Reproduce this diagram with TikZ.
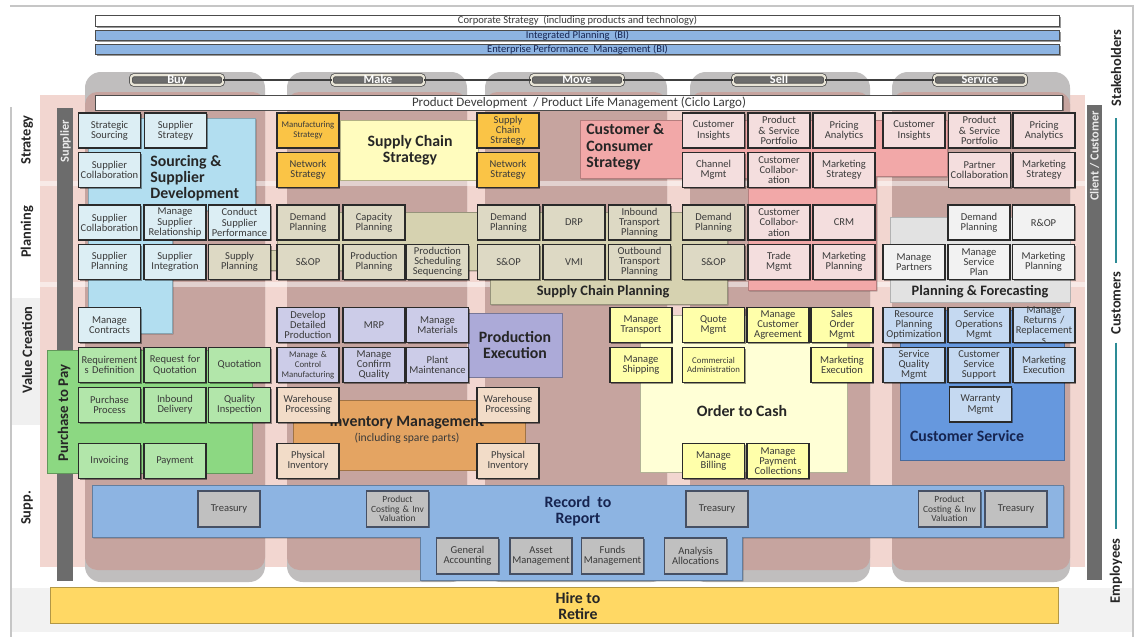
\documentclass[tikz,border=0pt]{standalone}
\usepackage{fontspec}
\setmainfont{Carlito}
\usetikzlibrary{shadows}

\definecolor{pinkbg}{RGB}{242,214,208}
\definecolor{mauve}{RGB}{198,164,159}
\definecolor{colgray}{RGB}{192,190,190}
\definecolor{bardark}{RGB}{108,108,108}
\definecolor{boxline}{RGB}{42,42,42}
\definecolor{txtdark}{RGB}{58,58,58}
\definecolor{navytxt}{RGB}{22,36,80}
\definecolor{tealline}{RGB}{45,140,150}
\definecolor{bluebar}{RGB}{141,180,226}
\definecolor{srcbig}{RGB}{178,222,240}
\definecolor{srcbox}{RGB}{220,238,244}
\definecolor{tanbox}{RGB}{221,217,196}
\definecolor{tanband}{RGB}{214,210,176}
\definecolor{orgbox}{RGB}{250,196,70}
\definecolor{scsbig}{RGB}{255,252,190}
\definecolor{pinkbox}{RGB}{244,222,222}
\definecolor{pinkbig}{RGB}{242,168,168}
\definecolor{graybox}{RGB}{242,242,242}
\definecolor{grayband}{RGB}{226,226,226}
\definecolor{lavbox}{RGB}{204,204,232}
\definecolor{lavbig}{RGB}{172,170,216}
\definecolor{grnbox}{RGB}{178,230,170}
\definecolor{grnbig}{RGB}{140,216,130}
\definecolor{peachbox}{RGB}{242,220,200}
\definecolor{invbig}{RGB}{228,164,98}
\definecolor{ylwbox}{RGB}{255,255,170}
\definecolor{otcbig}{RGB}{255,255,214}
\definecolor{svcbox}{RGB}{197,217,241}
\definecolor{svcbig}{RGB}{102,152,222}
\definecolor{finbox}{RGB}{192,192,192}
\definecolor{finline}{RGB}{70,80,100}
\definecolor{hrband}{RGB}{255,216,100}
\definecolor{pillrim}{RGB}{232,228,214}

\newcommand{\bxfont}{\fontsize{6}{5.8}\selectfont}
\newcommand{\bxsmall}{\fontsize{5}{5.6}\selectfont}
\newcommand{\lblfont}{\bfseries\fontsize{9}{9.2}\selectfont}
\newcommand{\overw}[1]{\makebox[\linewidth][c]{#1}}

\tikzset{
  dshadow/.style={drop shadow={shadow xshift=0.8pt, shadow yshift=-0.8pt, opacity=0.4, fill=black}},
  bx/.style={draw=boxline, line width=0.75pt, minimum width=1.24cm, minimum height=0.70cm,
    text width=1.24cm, inner sep=0pt, align=center, text=txtdark, font=\bxfont, dshadow},
  bxtxt/.style={text width=1.24cm, inner sep=0pt, align=center, text=txtdark, font=\bxfont},
  srcb/.style={bx, fill=srcbox},
  tanb/.style={bx, fill=tanbox},
  orgb/.style={bx, fill=orgbox},
  pnkb/.style={bx, fill=pinkbox},
  gryb/.style={bx, fill=graybox},
  lavb/.style={bx, fill=lavbox},
  grnb/.style={bx, fill=grnbox},
  pchb/.style={bx, fill=peachbox},
  ylwb/.style={bx, fill=ylwbox},
  svcb/.style={bx, fill=svcbox},
  finb/.style={bx, fill=finbox, draw=finline, line width=0.6pt, minimum height=0.72cm},
  grp/.style={line width=0.4pt, dshadow},
  biglbl/.style={font=\lblfont, text=black!85, align=center, inner sep=0pt},
  topbar/.style={draw=gray!60!black, line width=0.5pt, minimum width=19.3cm, minimum height=0.21cm,
    inner sep=0pt, font=\fontsize{6}{6}\selectfont, dshadow},
  pill/.style={fill=bardark, draw=gray!55!black, double=pillrim, double distance=1.3pt,
    rounded corners=1.5pt, minimum width=1.84cm, minimum height=0.17cm, inner sep=0pt,
    text height=4.6pt, text depth=0.8pt, text=white, font=\bfseries\fontsize{7}{7}\selectfont},
  rowlbl/.style={rotate=90, font=\bfseries\fontsize{8.2}{8.2}\selectfont, text=black!85},
  sidelbl/.style={rotate=90, font=\bfseries\fontsize{7}{7}\selectfont, text=white!92!black}
}

\begin{document}
\begin{tikzpicture}[x=0.02cm, y=-0.02cm]
\useasboundingbox (0,0) rectangle (1136,637);

% page, frame and backgrounds
\fill[white] (0,0) rectangle (1136,637);
\fill[gray!12] (11,298) rectangle (41,425);
\fill[gray!10] (11,588) rectangle (1133,632);
\draw[gray!45, line width=0.6pt] (10,6) -- (1133,6) -- (1133,637);
\draw[gray!45, line width=0.6pt] (11,107) -- (11,637);
\fill[pinkbg] (40,95) rectangle (1085,567);
\foreach \xa/\xb in {85/265, 287/467, 485/667, 690/870, 892/1070} {
  \fill[colgray, rounded corners=9pt] (\xa,72) rectangle (\xb,582);
  \fill[mauve, rounded corners=7pt] (\xa,92) rectangle (\xb,570);
}
\fill[white, opacity=0.5] (40,181) rectangle (1085,186);
\fill[white, opacity=0.5] (40,282) rectangle (1085,287);

\fill[bardark] (57,108) rectangle (73,581);
\node[sidelbl] (supLbl) at (65.5,141) {Supplier};
\fill[bardark] (1087,105) rectangle (1102,580);
\node[sidelbl] (cliLbl) at (1094.5,156) {Client / Customer};

% top bars and tabs
\node[topbar, fill=white, text=txtdark] (corp) at (577.5,21) {Corporate Strategy \ (including products and technology)};
\node[topbar, fill=bluebar, text=navytxt] (intp) at (577.5,35.5) {Integrated Planning \ (BI)};
\node[topbar, fill=bluebar, text=navytxt] (epm) at (577.5,49.5) {Enterprise Performance \ Management (BI)};

\node[pill] (buy) at (177,80) {Buy};
\node[pill] (make) at (378,80) {Make};
\node[pill] (move) at (577,80) {Move};
\node[pill] (sell) at (779,80) {Sell};
\node[pill] (service) at (980,80) {Service};
\draw[line width=1pt, black!75] (buy) -- (make) -- (move) -- (sell) -- (service);

\node[draw=gray!60!black, fill=white, line width=0.5pt, minimum width=19.36cm, minimum height=0.3cm,
  inner sep=0pt, text=txtdark, font=\fontsize{7.4}{7.4}\selectfont, dshadow] (pdev) at (579,102.5)
  {Product Development \ / Product Life Management (Ciclo Largo)};

% groups
\path[fill=srcbig, draw=srcbig!75!black, grp] (88,118) -- (255,118) -- (255,210) -- (172,210) -- (172,333) -- (88,333) -- cycle;
\path[fill=scsbig, draw=scsbig!70!black, grp] (340,120) rectangle (478,180);
\path[fill=pinkbig, draw=pinkbig!75!black, grp] (580,120) -- (947,120) -- (947,176) -- (876,176) -- (876,290) -- (748,290) -- (748,178) -- (580,178) -- cycle;
\path[fill=tanband, draw=tanband!70!black, grp] (262,250) -- (277,250) -- (277,212) -- (727,212) -- (727,304) -- (490,304) -- (490,270) -- (262,270) -- cycle;
\path[fill=grayband, draw=gray!60, grp] (890,217) rectangle (1070,302);
\path[fill=grnbig, draw=grnbig!70!black, grp] (47,350) rectangle (252,473);
\path[fill=lavbig, draw=lavbig!70!black, grp] (468,313) rectangle (562,377);
\path[fill=invbig, draw=invbig!70!black, grp] (293,400) rectangle (525,470);
\path[fill=otcbig, draw=otcbig!70!black, grp] (640,315) rectangle (847,472);
\path[fill=svcbig, draw=svcbig!70!black, grp] (900,310) rectangle (1064,460);
\path[fill=bluebar, draw=bluebar!70!black, grp] (92,485) -- (1063,485) -- (1063,537) -- (742,537) -- (742,580) -- (420,580) -- (420,537) -- (92,537) -- cycle;
\path[fill=hrband, draw=hrband!70!black, grp] (50,587) rectangle (1058,623);

\node[biglbl, anchor=west, align=left] (srcLbl) at (150,178) {Sourcing \&\\Supplier\\Development};
\node[biglbl] (scsLbl) at (410,150) {Supply Chain\\Strategy};
\node[biglbl, anchor=west, align=left] (ccsLbl) at (586,147) {Customer \&\\Consumer\\Strategy};
\node[biglbl, font=\bfseries\fontsize{8.2}{8.2}\selectfont] (scpLbl) at (603,292) {Supply Chain Planning};
\node[biglbl, font=\bfseries\fontsize{8.2}{8.2}\selectfont] (pfLbl) at (980,292) {Planning \& Forecasting};
\node[biglbl, rotate=90, font=\bfseries\fontsize{8.4}{8.4}\selectfont] (p2pLbl) at (64,413) {Purchase to Pay};
\node[biglbl] (peLbl) at (515,345) {Production\\Execution};
\node[biglbl] (invLbl) at (407,423) {Inventory Management};
\node[inner sep=0pt, text=txtdark, font=\fontsize{6.6}{6.6}\selectfont] (invSub) at (407,438) {(including spare parts)};
\node[biglbl] (otcLbl) at (742,411) {Order to Cash};
\node[biglbl, text=navytxt] (csLbl) at (967,436) {Customer Service};
\node[biglbl, text=navytxt] (r2rLbl) at (578,511) {Record \ to\\Report};
\node[biglbl] (h2rLbl) at (578,606) {Hire to\\Retire};

% buy
\node[srcb] (bS1) at (109.5,130.5) {Strategic\\Sourcing};
\node[srcb] (bS2) at (175.5,130.5) {Supplier\\Strategy};
\node[srcb] (bS3) at (109.5,170) {Supplier\\\overw{Collaboration}};
\node[srcb] (bP1) at (109.5,222.5) {Supplier\\\overw{Collaboration}};
\node[srcb] (bP2) at (175,222.5) {Manage\\Supplier\\\overw{Relationship}};
\node[srcb] (bP3) at (239.5,222.5) {Conduct\\Supplier\\\overw{Performance}};
\node[srcb] (bP4) at (109.5,262) {Supplier\\Planning};
\node[srcb] (bP5) at (175,262) {Supplier\\Integration};
\node[tanb] (bP6) at (239.5,262) {Supply\\Planning};
\node[srcb] (bV1) at (109.5,325) {Manage\\Contracts};
\node[grnb] (bV2) at (109.5,365) {\overw{Requirement}\\s Definition};
\node[grnb] (bV3) at (175,365) {Request for\\Quotation};
\node[grnb] (bV4) at (239.5,365) {Quotation};
\node[grnb] (bV5) at (109.5,405) {Purchase\\Process};
\node[grnb] (bV6) at (175,405) {Inbound\\Delivery};
\node[grnb] (bV7) at (239.5,405) {Quality\\Inspection};
\node[grnb] (bV8) at (109.5,461) {Invoicing};
\node[grnb] (bV9) at (175,461) {Payment};

% make
\node[orgb, font=\bxsmall] (mS1) at (308,130.5) {\overw{Manufacturing}\\Strategy};
\node[orgb] (mS2) at (308,170) {Network\\Strategy};
\node[tanb] (mP1) at (308,222.5) {Demand\\Planning};
\node[tanb] (mP2) at (374,222.5) {Capacity\\Planning};
\node[tanb] (mP3) at (308,262) {S\&OP};
\node[tanb] (mP4) at (374,262) {Production\\Planning};
\node[tanb] (mP5) at (437.5,262) {Production\\Scheduling\\Sequencing};
\node[lavb] (mV1) at (308,325) {Develop\\Detailed\\Production};
\node[lavb] (mV2) at (374,325) {MRP};
\node[lavb] (mV3) at (437.5,325) {Manage\\Materials};
\node[lavb, font=\bxsmall] (mV4) at (308,365) {Manage \&\\Control\\\overw{Manufacturing}};
\node[lavb] (mV5) at (374,365) {Manage\\Confirm\\Quality};
\node[lavb] (mV6) at (437.5,365) {Plant\\\overw{Maintenance}};
\node[pchb] (mV7) at (308,405) {Warehouse\\Processing};
\node[pchb] (mV8) at (508,405) {Warehouse\\Processing};
\node[pchb] (mV9) at (308,461) {Physical\\Inventory};
\node[pchb] (mV10) at (508,461) {Physical\\Inventory};

% move
\node[orgb] (vS1) at (508,130.5) {Supply\\Chain\\Strategy};
\node[orgb] (vS2) at (508,170) {Network\\Strategy};
\node[tanb] (vP1) at (508.5,222.5) {Demand\\Planning};
\node[tanb] (vP2) at (574,222.5) {DRP};
\node[tanb] (vP3) at (639.5,222.5) {Inbound\\Transport\\Planning};
\node[tanb] (vP4) at (508.5,262) {S\&OP};
\node[tanb] (vP5) at (574,262) {VMI};
\node[tanb] (vP6) at (639.5,262) {Outbound\\Transport\\Planning};
\node[ylwb] (vV1) at (641,325) {Manage\\Transport};
\node[ylwb] (vV2) at (641,365) {Manage\\Shipping};

% sell
\node[pnkb] (sS1) at (713.5,130.5) {Customer\\Insights};
\node[pnkb] (sS2) at (779,130.5) {Product\\\& Service\\Portfolio};
\node[pnkb] (sS3) at (844,130.5) {Pricing\\Analytics};
\node[pnkb] (sS4) at (713.5,170) {Channel\\Mgmt};
\node[pnkb] (sS5) at (779,170) {Customer\\Collabor-\\ation};
\node[pnkb] (sS6) at (844,170) {Marketing\\Strategy};
\node[tanb] (sP1) at (713.5,222.5) {Demand\\Planning};
\node[pnkb] (sP2) at (779,222.5) {Customer\\Collabor-\\ation};
\node[pnkb] (sP3) at (844,222.5) {CRM};
\node[tanb] (sP4) at (713.5,262) {S\&OP};
\node[pnkb] (sP5) at (779,262) {Trade\\Mgmt};
\node[pnkb] (sP6) at (844,262) {Marketing\\Planning};
\node[ylwb] (sV1) at (713.5,325) {Quote\\Mgmt};
\node[ylwb] (sV2) at (778,325) {Manage\\Customer\\Agreement};
\node[ylwb] (sV3) at (842,325) {Sales\\Order\\Mgmt};
\node[ylwb, font=\bxsmall] (sV4) at (713.5,365) {Commercial\\\overw{Administration}};
\node[ylwb] (sV5) at (842,365) {Marketing\\Execution};
\node[ylwb] (sV6) at (713.5,461) {Manage\\Billing};
\node[ylwb] (sV7) at (778,461) {Manage\\Payment\\Collections};

% service
\node[pnkb] (rS1) at (914,130.5) {Customer\\Insights};
\node[pnkb] (rS2) at (979.5,130.5) {Product\\\& Service\\Portfolio};
\node[pnkb] (rS3) at (1044,130.5) {Pricing\\Analytics};
\node[pnkb] (rS4) at (979.5,170) {Partner\\\overw{Collaboration}};
\node[pnkb] (rS5) at (1044,170) {Marketing\\Strategy};
\node[gryb] (rP1) at (979,222.5) {Demand\\Planning};
\node[gryb] (rP2) at (1043.5,222.5) {R\&OP};
\node[gryb] (rP3) at (914,262) {Manage\\Partners};
\node[gryb] (rP4) at (979,262) {Manage\\Service\\Plan};
\node[gryb] (rP5) at (1043.5,262) {Marketing\\Planning};
\node[svcb] (rV1) at (914,325) {Resource\\Planning\\\overw{Optimization}};
\node[svcb] (rV2) at (979,325) {Service\\Operations\\Mgmt};
\node[svcb] (rV3) at (1044,325) {};
\node[bxtxt] (rV3txt) at (rV3) {Manage\\Returns /\\\overw{Replacement}\\s};
\node[svcb] (rV4) at (914,365) {Service\\Quality\\Mgmt};
\node[svcb] (rV5) at (979,365) {Customer\\Service\\Support};
\node[svcb] (rV6) at (1044,365) {Marketing\\Execution};
\node[svcb] (rV7) at (980.5,404.5) {Warranty\\Mgmt};

% record to report
\node[finb] (fT1) at (229,509) {Treasury};
\node[finb, font=\fontsize{5.4}{5.3}\selectfont] (fC1) at (397.5,509) {Product\\\overw{Costing \& Inv}\\Valuation};
\node[finb] (fT2) at (717,509) {Treasury};
\node[finb, font=\fontsize{5.4}{5.3}\selectfont] (fC2) at (949.5,509) {Product\\\overw{Costing \& Inv}\\Valuation};
\node[finb] (fT3) at (1016,509) {Treasury};
\node[finb] (fG) at (467.5,556) {General\\Accounting};
\node[finb] (fA) at (541,556) {Asset\\\overw{Management}};
\node[finb] (fF) at (612.5,556) {Funds\\\overw{Management}};
\node[finb] (fN) at (695.5,556) {Analysis\\Allocations};

% row and stakeholder labels
\node[rowlbl] (rowStr) at (27,140) {Strategy};
\node[rowlbl] (rowPln) at (27,232) {Planning};
\node[rowlbl] (rowVal) at (27,350) {Value Creation};
\node[rowlbl] (rowSup) at (27,508) {Supp.};
\node[rowlbl] (stake) at (1116,68) {Stakeholders};
\node[rowlbl] (cust) at (1116,303) {Customers};
\node[rowlbl] (empl) at (1116,571) {Employees};
\draw[tealline, line width=1.6pt, shorten <=3pt, shorten >=1pt] (stake) -- (cust);
\draw[tealline, line width=1.6pt, shorten <=1pt, shorten >=2pt] (cust) -- (empl);
\end{tikzpicture}
\end{document}
